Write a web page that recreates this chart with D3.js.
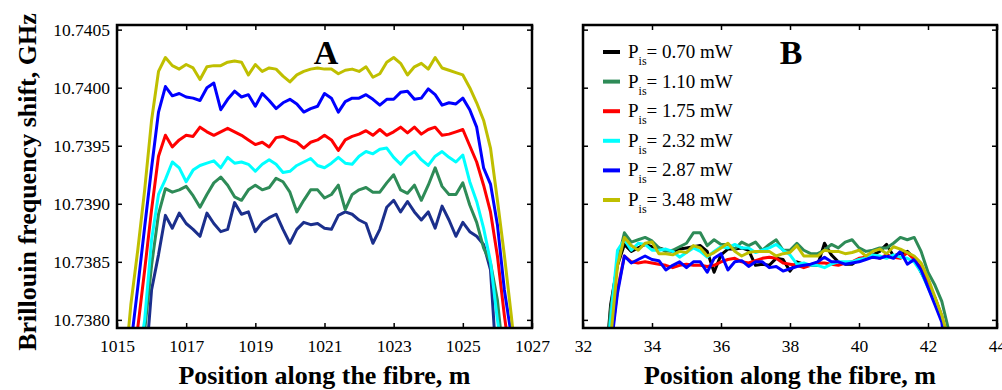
<!DOCTYPE html>
<html>
<head>
<meta charset="utf-8">
<script src="https://cdn.jsdelivr.net/npm/d3@7"></script>
<style>
  html, body { margin: 0; padding: 0; background: #fff; }
  svg { display: block; }
</style>
</head>
<body>
<script>
// tick values shared by both panels
const yTicks = [10.7380, 10.7385, 10.7390, 10.7395, 10.7400, 10.7405];
const xTicksA = [1015, 1017, 1019, 1021, 1023, 1025, 1027];
const xTicksB = [32, 34, 36, 38, 40, 42, 44];

const legendPowers = ["0.70", "1.10", "1.75", "2.32", "2.87", "3.48"];

// Panel A: positions (m) and Brillouin shift (GHz) per pump power
const posA = [1015.2,1015.4,1015.6,1015.8,1016.0,1016.2,1016.4,1016.6,1016.8,1017.0,
  1017.2,1017.4,1017.6,1017.8,1018.0,1018.2,1018.4,1018.6,1018.8,1019.0,
  1019.2,1019.4,1019.6,1019.8,1020.0,1020.2,1020.4,1020.6,1020.8,1021.0,
  1021.2,1021.4,1021.6,1021.8,1022.0,1022.2,1022.4,1022.6,1022.8,1023.0,
  1023.2,1023.4,1023.6,1023.8,1024.0,1024.2,1024.4,1024.6,1024.8,1025.0,
  1025.2,1025.4,1025.6,1025.8,1026.0,1026.2,1026.4,1026.6];

const a070 = [10.7373,10.7373,10.7373,10.7375,10.73826,10.73856,10.73890,10.73879,10.73892,10.73883,
  10.73878,10.73872,10.73892,10.73883,10.73876,10.73878,10.73901,10.73891,10.73893,10.73876,
  10.73884,10.73888,10.73891,10.73878,10.73866,10.73878,10.73884,10.73882,10.73883,10.73879,
  10.73878,10.73890,10.73893,10.73891,10.73886,10.73883,10.73866,10.73878,10.73897,10.73903,
  10.73893,10.73902,10.73893,10.73886,10.73893,10.73879,10.73898,10.73886,10.73872,10.73884,
  10.73876,10.73872,10.73865,10.73843,10.7375,10.7373,10.7373,10.7373];
const a110 = [10.7373,10.7373,10.7375,10.73791,10.73847,10.73891,10.73913,10.73910,10.73912,10.73915,
  10.73907,10.73897,10.73908,10.73918,10.73923,10.73916,10.73906,10.73903,10.73912,10.73916,
  10.73912,10.73914,10.73922,10.73919,10.73910,10.73893,10.73903,10.73912,10.73912,10.73905,
  10.73908,10.73916,10.73895,10.73908,10.73912,10.73914,10.73910,10.73910,10.73918,10.73925,
  10.73912,10.73909,10.73916,10.73903,10.73916,10.73931,10.73915,10.73908,10.73908,10.73918,
  10.73899,10.73884,10.73862,10.73849,10.73817,10.7376,10.7373,10.7373];
const a175 = [10.7373,10.7375,10.73793,10.73843,10.73895,10.73941,10.73959,10.73949,10.73955,10.73959,
  10.73958,10.73966,10.73962,10.73959,10.73962,10.73965,10.73962,10.73959,10.73955,10.73951,
  10.73953,10.73949,10.73957,10.73958,10.73955,10.73953,10.73948,10.73953,10.73955,10.73959,
  10.73955,10.73946,10.73955,10.73958,10.73960,10.73963,10.73959,10.73964,10.73959,10.73962,
  10.73966,10.73961,10.73966,10.73960,10.73964,10.73966,10.73959,10.73960,10.73962,10.73964,
  10.73950,10.73936,10.73916,10.73893,10.73855,10.73804,10.7376,10.7373];
const a232 = [10.7373,10.7373,10.7376,10.73800,10.73869,10.73908,10.73921,10.73936,10.73931,10.73919,
  10.73929,10.73933,10.73935,10.73937,10.73931,10.73940,10.73935,10.73936,10.73934,10.73928,
  10.73934,10.73938,10.73934,10.73927,10.73928,10.73933,10.73936,10.73939,10.73933,10.73931,
  10.73935,10.73940,10.73935,10.73934,10.73941,10.73945,10.73943,10.73947,10.73948,10.73940,
  10.73934,10.73941,10.73945,10.73938,10.73933,10.73941,10.73945,10.73940,10.73936,10.73942,
  10.73919,10.73902,10.73879,10.73850,10.73800,10.7376,10.7373,10.7373];
const a287 = [10.7374,10.73778,10.73828,10.73880,10.73931,10.73979,10.74001,10.73993,10.73995,10.73992,
  10.73991,10.73989,10.74000,10.74004,10.73981,10.73990,10.73997,10.73992,10.73994,10.73984,
  10.73995,10.73989,10.73982,10.73987,10.73990,10.73986,10.73979,10.73982,10.73984,10.73995,
  10.73991,10.73979,10.73988,10.73991,10.73991,10.73994,10.73990,10.73985,10.73990,10.73990,
  10.73996,10.73997,10.73990,10.73991,10.73999,10.73994,10.73985,10.73987,10.73986,10.73991,
  10.73981,10.73966,10.73931,10.73917,10.73882,10.73826,10.73787,10.7374];
const a348 = [10.73748,10.73813,10.73860,10.73912,10.73972,10.74014,10.74026,10.74019,10.74016,10.74020,
  10.74017,10.74007,10.74018,10.74019,10.74019,10.74022,10.74023,10.74022,10.74011,10.74020,
  10.74014,10.74017,10.74016,10.74010,10.74005,10.74011,10.74014,10.74016,10.74017,10.74016,
  10.74016,10.74012,10.74015,10.74016,10.74014,10.74018,10.74009,10.74012,10.74022,10.74026,
  10.74021,10.74011,10.74018,10.74021,10.74016,10.74026,10.74017,10.74015,10.74013,10.74011,
  10.74000,10.73987,10.73972,10.73948,10.73903,10.73856,10.73804,10.73748];

// Panel B
const posB = [32.6,32.8,33.0,33.2,33.4,33.6,33.8,34.0,34.2,34.4,
  34.6,34.8,35.0,35.2,35.4,35.6,35.8,36.0,36.2,36.4,
  36.6,36.8,37.0,37.2,37.4,37.6,37.8,38.0,38.2,38.4,
  38.6,38.8,39.0,39.2,39.4,39.6,39.8,40.0,40.2,40.4,
  40.6,40.8,41.0,41.2,41.4,41.6,41.8,42.0,42.2,42.4,
  42.6,42.8];

const b070 = [10.7374,10.73813,10.73847,10.73865,10.73859,10.73862,10.73865,10.73863,10.73862,10.73860,
  10.73859,10.73861,10.73862,10.73863,10.73864,10.73859,10.73841,10.73856,10.73861,10.73861,
  10.73862,10.73860,10.73847,10.73848,10.73847,10.73853,10.73852,10.73842,10.73850,10.73848,
  10.73847,10.73847,10.73866,10.73856,10.73850,10.73848,10.73848,10.73852,10.73853,10.73856,
  10.73859,10.73865,10.73855,10.73857,10.73859,10.73853,10.73841,10.73830,10.73819,10.73803,
  10.7377,10.7374];
const b110 = [10.7374,10.73809,10.73850,10.73875,10.73867,10.73869,10.73871,10.73868,10.73862,10.73859,
  10.73860,10.73863,10.73866,10.73875,10.73875,10.73864,10.73869,10.73865,10.73865,10.73861,
  10.73867,10.73864,10.73867,10.73860,10.73865,10.73869,10.73860,10.73860,10.73866,10.73860,
  10.73857,10.73857,10.73860,10.73865,10.73862,10.73867,10.73869,10.73862,10.73859,10.73860,
  10.73862,10.73862,10.73866,10.73871,10.73869,10.73871,10.73859,10.73841,10.73830,10.73816,
  10.73791,10.7374];
const b175 = [10.7374,10.73778,10.73826,10.73855,10.73850,10.73849,10.73850,10.73849,10.73848,10.73847,
  10.73845,10.73847,10.73848,10.73847,10.73847,10.73846,10.73847,10.73850,10.73852,10.73853,
  10.73850,10.73849,10.73851,10.73853,10.73854,10.73853,10.73849,10.73848,10.73847,10.73845,
  10.73847,10.73849,10.73849,10.73848,10.73847,10.73849,10.73850,10.73853,10.73854,10.73856,
  10.73853,10.73856,10.73854,10.73853,10.73858,10.73852,10.73845,10.73832,10.73819,10.73802,
  10.73778,10.7374];
const b232 = [10.7374,10.73800,10.73860,10.73869,10.73860,10.73866,10.73865,10.73860,10.73860,10.73861,
  10.73859,10.73854,10.73858,10.73862,10.73859,10.73854,10.73859,10.73863,10.73862,10.73865,
  10.73862,10.73862,10.73858,10.73860,10.73862,10.73865,10.73860,10.73856,10.73848,10.73849,
  10.73847,10.73847,10.73845,10.73848,10.73850,10.73850,10.73850,10.73852,10.73853,10.73856,
  10.73855,10.73853,10.73856,10.73854,10.73853,10.73850,10.73841,10.73828,10.73815,10.73802,
  10.73778,10.7374];
const b287 = [10.7374,10.73774,10.73823,10.73855,10.73849,10.73852,10.73855,10.73852,10.73851,10.73843,
  10.73847,10.73850,10.73845,10.73850,10.73850,10.73841,10.73853,10.73857,10.73843,10.73850,
  10.73851,10.73846,10.73850,10.73850,10.73845,10.73846,10.73842,10.73844,10.73846,10.73847,
  10.73848,10.73850,10.73854,10.73850,10.73850,10.73848,10.73849,10.73850,10.73852,10.73854,
  10.73853,10.73855,10.73853,10.73859,10.73848,10.73852,10.73843,10.73828,10.73813,10.73798,
  10.7375,10.7374];
const b348 = [10.7374,10.73783,10.73847,10.73871,10.73864,10.73860,10.73866,10.73867,10.73857,10.73857,
  10.73856,10.73859,10.73858,10.73864,10.73862,10.73855,10.73858,10.73862,10.73866,10.73859,
  10.73855,10.73858,10.73859,10.73859,10.73859,10.73855,10.73857,10.73858,10.73864,10.73855,
  10.73855,10.73855,10.73860,10.73859,10.73859,10.73857,10.73858,10.73860,10.73855,10.73859,
  10.73861,10.73857,10.73863,10.73861,10.73858,10.73855,10.73849,10.73836,10.73820,10.73804,
  10.73783,10.7374];

const coloursA = ["#1b2f8c", "#2e8b57", "#ff0000", "#00ffff", "#0000ff", "#bfbf00"];
const coloursB = ["#000000", "#2e8b57", "#ff0000", "#00ffff", "#0000ff", "#bfbf00"];

/***********************************************************************
 * SVG + shared y scale
 ***********************************************************************/
const width = 1002, height = 390;
const serif = "'Liberation Serif', 'Times New Roman', serif";

const svg = d3.select("body").append("svg")
    .attr("width", width)
    .attr("height", height);

svg.append("rect").attr("width", width).attr("height", height).attr("fill", "#fff");

const plotTop = 25, plotBottom = 328;
const y = d3.scaleLinear().domain([10.73793, 10.74054]).range([plotBottom, plotTop]);

function drawPanel(p) {
    const x = d3.scaleLinear().domain(p.xDomain).range([p.left, p.right]);
    const g = svg.append("g");

    const clipId = "clip-" + p.name;
    svg.append("clipPath").attr("id", clipId)
        .append("rect")
        .attr("x", p.left).attr("y", plotTop)
        .attr("width", p.right - p.left).attr("height", plotBottom - plotTop);

    // lines
    const line = d3.line()
        .x((d, i) => x(p.pos[i]))
        .y(d => y(d));

    g.append("g").attr("clip-path", `url(#${clipId})`)
        .selectAll("path")
        .data(p.series)
        .enter()
        .append("path")
        .attr("d", line)
        .attr("fill", "none")
        .attr("stroke", (d, i) => p.colours[i])
        .attr("stroke-width", 3)
        .attr("stroke-linejoin", "round");

    // axes, ticks pointing inward like MATLAB
    const styleAxis = sel => {
        sel.select(".domain").remove();
        sel.selectAll(".tick line").attr("stroke", "#000").attr("stroke-width", 1.5);
        sel.selectAll(".tick text")
            .attr("fill", "#000")
            .attr("font-family", serif)
            .attr("font-size", 17.5);
    };

    g.append("g")
        .attr("transform", `translate(0,${plotBottom})`)
        .call(d3.axisBottom(x).tickValues(p.xTicks).tickSizeInner(-5).tickSizeOuter(0)
            .tickPadding(12).tickFormat(d3.format("d")))
        .call(styleAxis);

    g.append("g")
        .attr("transform", `translate(0,${plotTop})`)
        .call(d3.axisTop(x).tickValues(p.xTicks).tickSizeInner(-5).tickSizeOuter(0).tickFormat(""))
        .call(styleAxis);

    g.append("g")
        .attr("transform", `translate(${p.left},0)`)
        .call(d3.axisLeft(y).tickValues(yTicks).tickSizeInner(-5).tickSizeOuter(0)
            .tickPadding(7).tickFormat(p.yLabels ? d3.format(".4f") : ""))
        .call(styleAxis);

    g.append("g")
        .attr("transform", `translate(${p.right},0)`)
        .call(d3.axisRight(y).tickValues(yTicks).tickSizeInner(-5).tickSizeOuter(0).tickFormat(""))
        .call(styleAxis);

    // frame
    g.append("rect")
        .attr("x", p.left).attr("y", plotTop)
        .attr("width", p.right - p.left).attr("height", plotBottom - plotTop)
        .attr("fill", "none")
        .attr("stroke", "#000")
        .attr("stroke-width", 2.5);

    // panel letter
    g.append("text")
        .attr("x", p.letterX).attr("y", 64)
        .attr("text-anchor", "middle")
        .attr("font-family", serif)
        .attr("font-weight", "bold")
        .attr("font-size", 34)
        .text(p.name);

    // x axis title
    g.append("text")
        .attr("x", (p.left + p.right) / 2).attr("y", 384)
        .attr("text-anchor", "middle")
        .attr("font-family", serif)
        .attr("font-weight", "bold")
        .attr("font-size", 26)
        .text("Position along the fibre, m");

    return x;
}

drawPanel({
    name: "A", xDomain: [1015, 1027], left: 117, right: 532,
    xTicks: xTicksA, yLabels: true, letterX: 326,
    pos: posA, series: [a070, a110, a175, a232, a287, a348], colours: coloursA
});

drawPanel({
    name: "B", xDomain: [32, 44], left: 583, right: 997,
    xTicks: xTicksB, yLabels: false, letterX: 791,
    pos: posB, series: [b070, b110, b175, b232, b287, b348], colours: coloursB
});

// y axis title
svg.append("text")
    .attr("transform", "translate(36,182) rotate(-90)")
    .attr("text-anchor", "middle")
    .attr("font-family", serif)
    .attr("font-weight", "bold")
    .attr("font-size", 26)
    .text("Brillouin frequency shift, GHz");

/***********************************************************************
 * Legend (panel B)
 ***********************************************************************/
const legend = svg.append("g").attr("transform", "translate(603,58)");
legendPowers.forEach((pw, i) => {
    const row = legend.append("g").attr("transform", `translate(0,${i * 29.6})`);
    row.append("line")
        .attr("x1", 0).attr("x2", 17)
        .attr("y1", -6).attr("y2", -6)
        .attr("stroke", coloursB[i])
        .attr("stroke-width", 4);
    const t = row.append("text")
        .attr("x", 25)
        .attr("font-family", serif)
        .attr("font-size", 19);
    t.append("tspan").text("P");
    t.append("tspan").attr("dy", 7).attr("font-size", 12).text("is");
    t.append("tspan").attr("dy", -7).text(`= ${pw} mW`);
});
</script>
</body>
</html>
